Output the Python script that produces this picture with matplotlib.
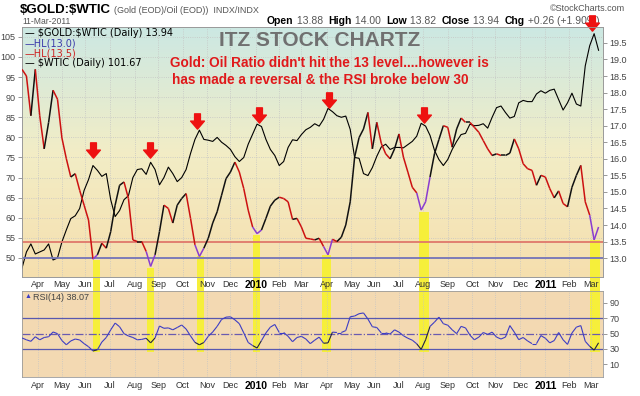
import numpy as np
import pandas as pd
import matplotlib
matplotlib.use("Agg")
import matplotlib.pyplot as plt
from matplotlib.path import Path
from matplotlib.patches import Rectangle
from matplotlib.collections import LineCollection
from matplotlib.colors import LinearSegmentedColormap

days = pd.bdate_range("2009-03-12", "2011-03-11")
STEP = 4

wtic = [47.5, 51.5, 53.5, 51.0, 51.5, 52.0, 53.5, 49.5, 50.0, 54.0,
        57.0, 59.8, 60.5, 62.3, 66.8, 69.5, 73.0, 71.8, 70.3, 71.0,
        64.5, 60.3, 61.8, 64.5, 65.5, 70.0, 72.0, 72.2, 70.8, 73.8,
        72.0, 68.2, 70.0, 72.6, 71.0, 69.0, 70.0, 72.0, 76.0, 79.5,
        81.8, 79.5, 79.3, 79.0, 80.0, 78.8, 78.0, 77.0, 75.2, 74.0,
        75.0, 78.3, 80.8, 83.3, 82.7, 79.5, 77.0, 75.5, 73.0, 74.0,
        77.5, 79.4, 79.2, 80.7, 81.9, 82.5, 83.4, 82.8, 84.5, 87.2,
        86.4, 85.4, 85.0, 85.3, 82.0, 75.0, 74.8, 71.0, 70.5, 72.5,
        75.3, 77.6, 78.3, 77.0, 77.5, 77.5, 77.4, 78.2, 79.0, 80.3,
        83.5, 82.8, 80.5, 76.8, 74.5, 73.0, 74.5, 77.0, 79.0, 80.7,
        81.0, 83.3, 82.9, 83.0, 83.4, 82.3, 85.0, 87.4, 87.8, 86.2,
        84.8, 85.2, 88.6, 89.2, 88.9, 88.9, 90.8, 91.6, 91.0, 91.7,
        92.0, 89.4, 86.8, 88.6, 91.0, 88.3, 87.8, 97.8, 102.8, 105.8,
        101.67]

ratio = [18.7, 18.5, 17.3, 18.7, 17.3, 16.3, 17.1, 18.07, 17.8, 16.63,
         16.0, 15.45, 15.55, 15.05, 14.6, 14.15, 12.97, 13.1, 13.45, 13.3,
         13.8, 14.6, 15.2, 15.3, 14.8, 13.55, 13.5, 13.5, 13.2, 12.75,
         13.1, 13.8, 14.6, 14.5, 14.06, 14.6, 14.8, 14.95, 14.2, 13.4,
         13.05, 13.3, 13.6, 14.06, 14.4, 14.9, 15.4, 15.6, 15.9, 15.6,
         15.1, 14.45, 13.94, 13.74, 13.85, 14.2, 14.57, 14.75, 14.84, 14.8,
         14.7, 14.17, 14.2, 13.94, 13.6, 13.58, 13.55, 13.6, 13.35, 13.1,
         13.57, 13.5, 13.63, 14.0, 14.7, 16.05, 16.64, 16.9, 17.4, 16.3,
         17.1, 16.47, 16.15, 16.0, 16.3, 16.75, 16.05, 15.6, 15.14, 14.97,
         14.45, 14.7, 15.45, 16.15, 16.58, 17.0, 16.95, 16.35, 16.9, 17.23,
         17.1, 17.1, 16.95, 16.8, 16.55, 16.3, 16.1, 16.15, 16.1, 16.1,
         16.17, 16.6, 16.3, 15.85, 15.7, 15.65, 15.2, 15.5, 15.45, 15.1,
         14.82, 15.03, 14.65, 14.55, 15.14, 15.5, 15.8, 14.7, 14.3, 13.55,
         13.94]

rsi = [44.4, 42, 40, 46, 42, 45, 46, 52.2, 50, 41,
       35.5, 40.5, 43, 41.8, 37, 33, 27.4, 29, 39, 45,
       55, 63.8, 59, 50, 47, 45, 42, 42.5, 44, 38,
       44.4, 60, 57, 57.5, 55, 58, 61.3, 56, 47, 38.6,
       35.5, 38.5, 46.5, 52.2, 59.5, 68.5, 71.5, 72, 68, 63,
       51, 38.5, 34.5, 31.3, 41, 51, 58.5, 62, 51.5, 51.5,
       46.5, 39.5, 45, 46.5, 43, 37, 41.5, 45.5, 37.5, 38,
       52, 51.5, 51.5, 54, 72, 73, 76, 77, 69, 59,
       58, 51, 51, 49.5, 55, 52, 47.3, 44, 41.5, 36.8,
       29.5, 42, 59.5, 65, 71.5, 63, 61, 55, 50, 59.5,
       57.5, 48, 42, 45.5, 51.5, 49, 52, 45.5, 43, 45.5,
       60.5, 52, 42.2, 45, 40.5, 37, 37, 47.5, 44, 38,
       41, 51.5, 42, 36, 50.9, 58.5, 60.5, 40, 33.5, 28.5,
       38.07]

# highlighted RSI lows
band_start = ["2009-06-10", "2009-08-18", "2009-10-20", "2009-12-29",
              "2010-03-26", "2010-07-27", "2011-02-28"]
band_end = ["2009-06-18", "2009-08-26", "2009-10-28", "2010-01-07",
            "2010-04-07", "2010-08-09", "2011-03-11"]
band_low = [12.95, 12.7, 13.05, 13.7, 13.09, 14.4, 13.55]

# red arrows over the oil peaks (left-axis level)
arrow_dates = ["2009-06-10", "2009-08-20", "2009-10-20", "2010-01-06",
               "2010-04-05", "2010-08-03", "2011-03-02"]
arrow_level = [76.9, 76.9, 84.1, 85.6, 89.3, 85.6, 108.5]

hl_levels = [13.0, 13.5]
quote = [("Open", " 13.88  "), ("High", " 14.00  "), ("Low", " 13.82  "),
         ("Close", " 13.94  "), ("Chg", " +0.26 (+1.90%)")]

plt.rcParams["font.family"] = ["Liberation Sans", "DejaVu Sans"]

W, H = 640, 396


def box(l, t, r, b):
    return [l / W, 1 - b / H, (r - l) / W, (b - t) / H]


def pos(d):
    return days.searchsorted(pd.to_datetime(d))


x = np.arange(0, len(days), STEP)
XL = (0, 524)
YEL = "#f6ef3a"
GRID = dict(color="#c4c4c4", linestyle=":", linewidth=0.6)

m = days.month.values
ticks = np.flatnonzero(np.r_[False, m[1:] != m[:-1]])
tlabels = [str(days[i].year) if days[i].month == 1 else days[i].strftime("%b")
           for i in ticks]

fig = plt.figure(figsize=(6.4, 3.96), dpi=100)

# panel background
bg = fig.add_axes(box(22, 27, 603, 277), zorder=0)
cmap = LinearSegmentedColormap.from_list("panel", ["#f6dfae", "#f2edc6", "#cce8e3"])
bg.imshow(np.linspace(0, 1, 256).reshape(-1, 1), cmap=cmap, aspect="auto",
          origin="lower", extent=(0, 1, 0, 1))
bg.axis("off")

ax = fig.add_axes(box(22, 27, 603, 277), zorder=2)
ax.patch.set_visible(False)
axr = ax.twinx()
axr.set_zorder(3)
axr.patch.set_visible(False)

# oil, left scale
ax.plot(x, wtic, color="black", lw=0.8, zorder=3)

# ratio, right scale: black up, red down, purple at the lows
bs = pos(band_start)
be = pos(band_end)
r = np.array(ratio)
segs = np.stack([np.column_stack([x[:-1], r[:-1]]),
                 np.column_stack([x[1:], r[1:]])], axis=1)
cols = np.where(np.diff(r) >= 0, "#111111", "#cc1111").astype(object)
mid = (x[:-1] + x[1:]) / 2
for s, e in zip(bs, be):
    cols[(mid >= s) & (mid <= e - 1)] = "#8a3cd0"
axr.add_collection(LineCollection(segs, colors=list(cols), linewidths=1.1, zorder=4))

axr.axhline(hl_levels[0], color="#7474b8", lw=1.3, zorder=2)
axr.axhline(hl_levels[1], color="#e0786a", lw=1.3, zorder=2)

for s, e, lo in zip(bs, be, band_low):
    axr.add_patch(Rectangle((s, 12.43), e - s, lo - 12.43, color=YEL, lw=0, zorder=1))

arrow = Path([(-0.38, 1), (0.38, 1), (0.38, 0.05), (0.9, 0.05), (0, -1),
              (-0.9, 0.05), (-0.38, 0.05), (-0.38, 1)],
             [Path.MOVETO] + [Path.LINETO] * 6 + [Path.CLOSEPOLY])
ax.plot(pos(arrow_dates), arrow_level, linestyle="none", marker=arrow,
        markersize=11, color="#ee1111", clip_on=False, zorder=6)

ax.set_xlim(*XL)
axr.set_xlim(*XL)
ax.set_ylim(45.27, 107.46)
axr.set_ylim(12.43, 19.98)
ax.set_yticks(range(50, 106, 5))
axr.set_yticks(np.arange(13.0, 19.51, 0.5))
axr.yaxis.set_major_formatter(lambda v, p: f"{v:.1f}")
for a in (ax, axr):
    a.tick_params(axis="y", labelsize=6.5, labelcolor="#444444", length=3,
                  width=0.6, color="#888888", pad=1.5)
    for sp in a.spines.values():
        sp.set_color("#9a9a9a")
        sp.set_linewidth(0.6)
ax.set_xticks(ticks)
ax.set_xticklabels(tlabels)
ax.tick_params(axis="x", length=0, labelsize=6.5, labelcolor="#333333", pad=2.5)
ax.grid(axis="both", **GRID)

# RSI panel
rs = fig.add_axes(box(22, 291, 603, 377), zorder=1, facecolor="#f3d9b2")
rv = np.array(rsi)
rsegs = np.stack([np.column_stack([x[:-1], rv[:-1]]),
                  np.column_stack([x[1:], rv[1:]])], axis=1)
rcols = np.full(len(rsegs), "#3c3cc4", dtype=object)
for s, e in zip(bs, be):
    rcols[(mid >= s) & (mid <= e - 1)] = "#222244"
rs.add_collection(LineCollection(rsegs, colors=list(rcols), linewidths=0.8, zorder=3))
rs.axhline(70, color="#5858b0", lw=0.9, zorder=2)
rs.axhline(30, color="#5858b0", lw=0.9, zorder=2)
rs.axhline(50, color="#6a5ab0", lw=0.9, ls="-.", zorder=2)
for s, e in zip(bs, be):
    rs.add_patch(Rectangle((s, 26), e - s, 124.5 - 26, color=YEL, lw=0,
                           clip_on=False, zorder=0.5))
rs.set_xlim(*XL)
rs.set_ylim(-6.5, 105.6)
rs.yaxis.tick_right()
rs.set_yticks([10, 30, 50, 70, 90])
rs.tick_params(axis="y", labelsize=6.5, labelcolor="#444444", length=3,
               width=0.6, color="#888888", pad=1.5)
rs.set_xticks(ticks)
rs.set_xticklabels(tlabels)
rs.tick_params(axis="x", length=0, labelsize=6.5, labelcolor="#333333", pad=3)
rs.grid(axis="x", **GRID)
for sp in rs.spines.values():
    sp.set_color("#9a9a9a")
    sp.set_linewidth(0.6)

for a in (ax, rs):
    for t in a.get_xticklabels():
        if t.get_text().isdigit():
            t.set_fontweight("bold")
            t.set_fontsize(7.5)
            t.set_color("black")

# header
fig.text(20 / W, 1 - 13 / H, "$GOLD:$WTIC", fontsize=9.5, weight="bold",
         va="baseline", parse_math=False)
fig.text(114 / W, 1 - 13 / H, "(Gold (EOD)/Oil (EOD))  INDX/INDX", fontsize=6.5,
         color="#555555", va="baseline")
fig.text(22 / W, 1 - 24.5 / H, "11-Mar-2011", fontsize=6.2, color="#555555",
         va="baseline")
fig.text(625 / W, 1 - 11 / H, "\u00a9StockCharts.com", fontsize=6.5, color="#555555",
         va="baseline", ha="right")
t = None
for lab, val in quote:
    if t is None:
        t = fig.text(267 / W, 1 - 24 / H, lab, fontsize=7.5, weight="bold",
                     va="baseline")
    else:
        t = ax.annotate(lab, xy=(1, 0), xycoords=t, va="bottom", fontsize=7.5,
                        weight="bold", annotation_clip=False)
    t = ax.annotate(val, xy=(1, 0), xycoords=t, va="bottom", fontsize=7.5,
                    color="#555555", annotation_clip=False)

# legend lines inside the panel
leg = [("\u2014 $GOLD:$WTIC (Daily) 13.94", "black"),
       ("\u2014HL(13.0)", "#3a3aaa"),
       ("\u2014HL(13.5)", "#cc2222"),
       ("\u2014 $WTIC (Daily) 101.67", "black")]
for i, (txt, c) in enumerate(leg):
    fig.text(25 / W, 1 - (33 + 10 * i) / H, txt, fontsize=7, color=c,
             va="center", family="DejaVu Sans", parse_math=False)

fig.text(320 / W, 1 - 41 / H, "ITZ STOCK CHARTZ", fontsize=15, weight="bold",
         color="#707070", ha="center", va="center")
fig.text(170 / W, 1 - 63 / H, "Gold: Oil Ratio didn't hit the 13 level....however is",
         fontsize=9.8, weight="bold", color="#e0191b", va="center")
fig.text(172 / W, 1 - 80 / H, "has made a reversal & the RSI broke below 30",
         fontsize=9.8, weight="bold", color="#e0191b", va="center")

fig.text(25 / W, 1 - 297 / H, "\u25b2", fontsize=5, color="#3c3cc4", va="center")
fig.text(33 / W, 1 - 297 / H, "RSI(14) 38.07", fontsize=6.5, color="#444444",
         va="center")

fig.savefig("out.png", dpi=100)
plt.close(fig)
